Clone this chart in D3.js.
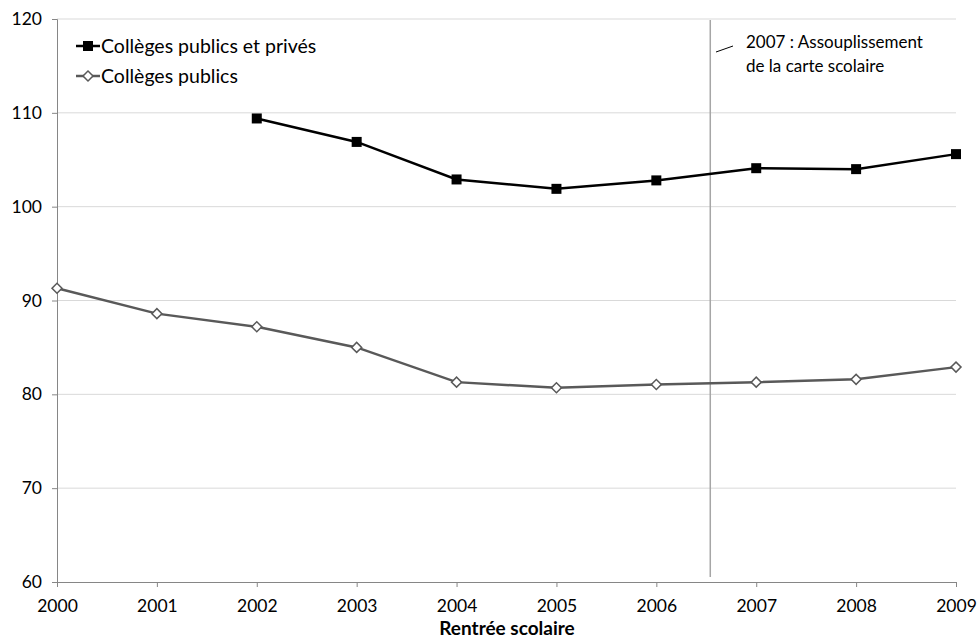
<!DOCTYPE html>
<html>
<head>
<meta charset="utf-8">
<script src="https://cdn.jsdelivr.net/npm/d3@7"></script>
<style>
  html, body { margin: 0; padding: 0; background: #fff; }
  svg text { font-family: Lato, "Open Sans", sans-serif; fill: #000; }
</style>
</head>
<body>
<svg id="chart" width="977" height="641"></svg>
<script>
// Years of the school intake (rentrée scolaire)
const years = [2000, 2001, 2002, 2003, 2004, 2005, 2006, 2007, 2008, 2009];
// Public and private collèges (no data before 2002)
const publicPrive = [null, null, 109.4, 106.9, 102.9, 101.9, 102.8, 104.1, 104.0, 105.6];
// Public collèges only
const publics = [91.3, 88.6, 87.2, 85.0, 81.3, 80.7, 81.05, 81.3, 81.6, 82.9];
const yTicks = [60, 70, 80, 90, 100, 110, 120];
const seriesNames = ["Collèges publics et privés", "Collèges publics"];
const reformYear = 2006.54;
const noteLines = ["2007 : Assouplissement", "de la carte scolaire"];
const xTitle = "Rentrée scolaire";

const svg = d3.select("#chart");
const plotLeft = 57, plotRight = 956, plotTop = 19, plotBottom = 582;

const x = d3.scaleLinear().domain([2000, 2009]).range([plotLeft, plotRight]);
const y = d3.scaleLinear().domain([60, 120]).range([plotBottom, plotTop]);

// Horizontal gridlines
svg.append("g").selectAll("line").data(yTicks.filter(d => d > 60)).join("line")
  .attr("x1", plotLeft).attr("x2", plotRight)
  .attr("y1", d => y(d)).attr("y2", d => y(d))
  .attr("stroke", "#d9d9d9").attr("stroke-width", 1);

// Y axis
const yAxis = svg.append("g").attr("transform", `translate(${plotLeft},0)`)
  .call(d3.axisLeft(y).tickValues(yTicks).tickSize(5).tickPadding(10).tickFormat(d3.format("d")));
yAxis.select(".domain").attr("stroke", "#868686");
yAxis.selectAll(".tick line").attr("stroke", "#868686");
yAxis.selectAll(".tick text").style("font-size", "17.5px").attr("fill", "#000");

// X axis
const xAxis = svg.append("g").attr("transform", `translate(0,${plotBottom})`)
  .call(d3.axisBottom(x).tickValues(years).tickSize(5).tickPadding(13).tickFormat(d3.format("d")));
xAxis.select(".domain").attr("stroke", "#868686");
xAxis.selectAll(".tick line").attr("stroke", "#868686");
xAxis.selectAll(".tick text").style("font-size", "17.5px").attr("fill", "#000");

// Axis title
svg.append("text").attr("x", 507).attr("y", 635)
  .attr("text-anchor", "middle").style("font-size", "19px").style("font-weight", "bold")
  .text(xTitle);

// Reform marker
svg.append("line")
  .attr("x1", x(reformYear)).attr("x2", x(reformYear))
  .attr("y1", plotTop + 1).attr("y2", plotBottom - 5)
  .attr("stroke", "#a6a6a6").attr("stroke-width", 1.5);
svg.append("line").attr("x1", 716).attr("y1", 52).attr("x2", 733).attr("y2", 46)
  .attr("stroke", "#000").attr("stroke-width", 1);
svg.append("text").attr("x", 746).attr("y", 48).style("font-size", "17px").text(noteLines[0]);
svg.append("text").attr("x", 746).attr("y", 72).style("font-size", "17px").text(noteLines[1]);

const line = d3.line()
  .defined(d => d.v != null)
  .x(d => x(d.year)).y(d => y(d.v));

const blackData = years.map((year, i) => ({ year, v: publicPrive[i] }));
const grayData = years.map((year, i) => ({ year, v: publics[i] }));

// Public collèges series
svg.append("path").datum(grayData).attr("d", line)
  .attr("fill", "none").attr("stroke", "#595959").attr("stroke-width", 2.5);
const diamond = d3.symbol().type(d3.symbolSquare).size(50);
svg.append("g").selectAll("path").data(grayData).join("path")
  .attr("d", diamond)
  .attr("transform", d => `translate(${x(d.year)},${y(d.v)}) rotate(45)`)
  .attr("fill", "#fff").attr("stroke", "#595959").attr("stroke-width", 1.5);

// Public + private series
svg.append("path").datum(blackData).attr("d", line)
  .attr("fill", "none").attr("stroke", "#000").attr("stroke-width", 2.5);
svg.append("g").selectAll("rect").data(blackData.filter(d => d.v != null)).join("rect")
  .attr("x", d => x(d.year) - 5).attr("y", d => y(d.v) - 5)
  .attr("width", 10).attr("height", 10).attr("fill", "#000");

// Legend
const legend = svg.append("g");
const legendRows = [
  { name: seriesNames[0], color: "#000", marker: "square", yPos: 46 },
  { name: seriesNames[1], color: "#595959", marker: "diamond", yPos: 76 }
];
legendRows.forEach(r => {
  legend.append("line").attr("x1", 76).attr("x2", 100).attr("y1", r.yPos).attr("y2", r.yPos)
    .attr("stroke", r.color).attr("stroke-width", 2.5);
  if (r.marker === "square") {
    legend.append("rect").attr("x", 83).attr("y", r.yPos - 5).attr("width", 10).attr("height", 10).attr("fill", "#000");
  } else {
    legend.append("path").attr("d", diamond)
      .attr("transform", `translate(88,${r.yPos}) rotate(45)`)
      .attr("fill", "#fff").attr("stroke", r.color).attr("stroke-width", 1.5);
  }
  legend.append("text").attr("x", 101).attr("y", r.yPos + 7).style("font-size", "19.5px").text(r.name);
});
</script>
</body>
</html>
